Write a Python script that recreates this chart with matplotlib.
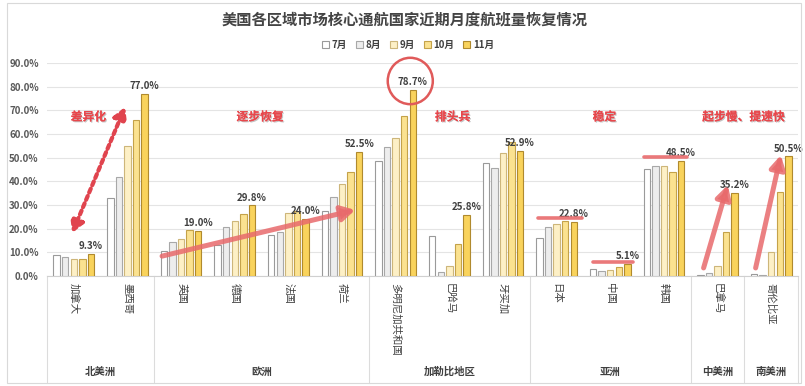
import matplotlib
matplotlib.use("Agg")
import matplotlib.pyplot as plt
import matplotlib.patheffects as pe
import numpy as np
from matplotlib.patches import Ellipse, Rectangle
from matplotlib.transforms import blended_transform_factory

plt.rcParams['font.family'] = ['Noto Sans CJK SC', 'DejaVu Sans']

countries = ["加拿大", "墨西哥", "英国", "德国", "法国", "荷兰", "多明尼加共和国",
             "巴哈马", "牙买加", "日本", "中国", "韩国", "巴拿马", "哥伦比亚"]
regions = ["北美洲", "欧洲", "加勒比地区", "亚洲", "中美洲", "南美洲"]
region_sizes = [2, 4, 3, 3, 1, 1]
months = ["7月", "8月", "9月", "10月", "11月"]

jul = [8.7, 32.9, 10.4, 13.0, 17.3, 27.4, 48.4, 16.8, 47.7, 15.9, 3.0, 45.1, 0.3, 0.8]
aug = [7.9, 42.0, 14.2, 20.6, 18.8, 33.4, 54.4, 1.6, 45.6, 20.5, 2.1, 46.3, 1.1, 0.4]
sep = [7.0, 54.9, 15.5, 23.4, 26.5, 38.9, 58.4, 4.4, 51.9, 22.0, 2.5, 46.3, 4.1, 10.0]
oct_ = [7.3, 65.9, 19.3, 26.1, 27.5, 43.9, 67.4, 13.5, 56.6, 23.1, 3.8, 43.9, 18.8, 35.5]
nov = [9.3, 77.0, 19.0, 29.8, 24.0, 52.5, 78.7, 25.8, 52.9, 22.8, 5.1, 48.5, 35.2, 50.5]
series = [jul, aug, sep, oct_, nov]

fills = ['#ffffff', '#ededed', '#fdf0c6', '#fbe290', '#f9d35c']
edges = ['#9a9a9a', '#a8a8a8', '#cdb67a', '#c4a24a', '#b08a2e']
red = '#e8474c'
arrow_red = '#e86a6c'

fig = plt.figure(figsize=(8.05, 3.86), dpi=100)
ax = fig.add_axes([47 / 805, 110 / 386, 751 / 805, 213 / 386])

x = np.arange(len(countries))
step, width = 0.16, 0.12
for i, (vals, fc, ec, m) in enumerate(zip(series, fills, edges, months)):
    ax.bar(x + (i - 2) * step, vals, width, color=fc, edgecolor=ec, linewidth=0.8,
           label=m, zorder=3)

# value labels above the November bar
for xi, v in zip(x, nov):
    ax.annotate(f"{v:.1f}%", (xi + 2 * step, v), xytext=(0, 2), textcoords="offset points",
                ha="center", va="bottom", fontsize=7, fontweight="bold", color="#404040",
                zorder=5)

ax.set_xlim(-0.5, len(countries) - 0.5)
ax.set_ylim(0, 90)
ax.set_yticks(np.arange(0, 91, 10))
ax.set_yticklabels([f"{t:.1f}%" for t in np.arange(0, 91, 10)], fontsize=7,
                   color="#595959", fontweight="bold")
ax.grid(axis="y", color="#e4e4e4", linewidth=0.8, zorder=0)
ax.tick_params(axis="y", length=0, pad=6)
ax.tick_params(axis="x", length=0, pad=5)
ax.set_xticks(x)
ax.set_xticklabels(countries, rotation=-90, va="top", ha="center", fontsize=7.5, color="#404040")
for s in ["left", "right", "top"]:
    ax.spines[s].set_visible(False)
ax.spines["bottom"].set_color("#d0d0d0")

# two-level category axis: region separators and names
trans = blended_transform_factory(ax.transData, ax.transAxes)
bounds = np.concatenate([[0], np.cumsum(region_sizes)]) - 0.5
for b in bounds:
    ax.plot([b, b], [0, -0.5], transform=trans, color="#dcdcdc", linewidth=0.8, clip_on=False)
for name, lo, hi in zip(regions, bounds[:-1], bounds[1:]):
    ax.text((lo + hi) / 2, -0.45, name, transform=trans, ha="center", va="center",
            fontsize=7.5, color="#404040", fontweight="bold")

# legend
leg = fig.legend(loc="center", bbox_to_anchor=(0.507, 1 - 45 / 386), ncol=5, frameon=False,
                 handlelength=0.7, handleheight=0.7, handletextpad=0.3,
                 columnspacing=0.9, prop={"weight": "bold", "size": 7})
for t in leg.get_texts():
    t.set_color("#404040")

fig.suptitle("美国各区域市场核心通航国家近期月度航班量恢复情况", x=0.503, y=1 - 20 / 386,
             va="center", fontsize=11, fontweight="bold", color="#444444")

# annotations
shadow = [pe.withSimplePatchShadow(offset=(0.8, -0.8), shadow_rgbFace="#888888", alpha=0.5),
          pe.Normal()]
notes = [("差异化", 0.27), ("逐步恢复", 3.47), ("排头兵", 7.06), ("稳定", 9.89),
         ("起步慢、提速快", 12.48)]
for txt, xp in notes:
    ax.text(xp, 67.2, txt, ha="center", va="center", fontsize=8.5, fontweight="bold",
            color=red, path_effects=shadow, zorder=6)

ax.annotate("", xy=(0.955, 71.4), xytext=(-0.03, 18.2),
            arrowprops=dict(arrowstyle="<|-|>,head_width=0.4,head_length=0.7", color="#e0444e",
                            lw=3, linestyle=(0, (1, 0.9)), shrinkA=0, shrinkB=0), zorder=6)

thick = dict(arrowstyle="-|>,head_width=0.45,head_length=0.8", color=arrow_red, lw=3.6,
             alpha=0.85, shrinkA=0, shrinkB=0)
ax.annotate("", xy=(5.246, 27.9), xytext=(1.645, 8.4), arrowprops=thick, zorder=6)
ax.annotate("", xy=(12.19, 38.4), xytext=(11.74, 3.4), arrowprops=thick, zorder=6)
ax.annotate("", xy=(13.18, 51.1), xytext=(12.71, 3.4), arrowprops=thick, zorder=6)

for x0, x1, yl in [(8.66, 9.48, 24.5), (9.67, 10.43, 5.9), (10.62, 11.44, 50.3)]:
    ax.plot([x0, x1], [yl, yl], color=arrow_red, lw=2.6, alpha=0.9, solid_capstyle="round",
            zorder=6)

ax.add_patch(Ellipse((6.272, 82.4), 0.84, 19.6, fill=False, edgecolor="#e05a5a", lw=1.8,
                     zorder=6, clip_on=False))

fig.add_artist(Rectangle((7 / 805, 3 / 386), 794 / 805, 380 / 386, transform=fig.transFigure,
                         fill=False, edgecolor="#d9d9d9", linewidth=0.8))

fig.savefig("out.png", dpi=100)
